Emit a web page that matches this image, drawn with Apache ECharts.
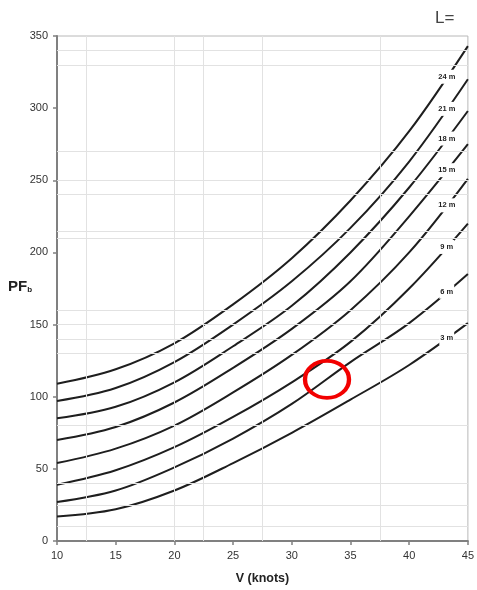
<!DOCTYPE html>
<html>
<head>
<meta charset="utf-8">
<script src="https://cdn.jsdelivr.net/npm/echarts@6/dist/echarts.min.js"></script>
<style>html,body{margin:0;padding:0;background:#fff;}#c{width:477px;height:590px;}</style>
</head>
<body>
<div id="c"></div>
<script>
const knots = [10, 15, 20, 25, 30, 35, 40, 45];
const xTicks = [10, 15, 20, 25, 30, 35, 40, 45];
const yTicks = [0, 50, 100, 150, 200, 250, 300, 350];
const lengthLabels = ['3 m', '6 m', '9 m', '12 m', '15 m', '18 m', '21 m', '24 m'];
const pf3  = [17, 22, 35, 54, 75, 98, 122, 151];
const pf6  = [27, 35, 51, 71, 95, 124, 151, 185];
const pf9  = [39, 49, 65, 86, 110, 138, 175, 220];
const pf12 = [54, 64, 80, 103, 129, 160, 200, 251];
const pf15 = [70, 79, 96, 120, 147, 180, 225, 275];
const pf18 = [85, 93, 110, 135, 163, 200, 245, 298];
const pf21 = [97, 106, 124, 150, 180, 217, 263, 320];
const pf24 = [109, 119, 137, 164, 196, 236, 284, 343];
const gridX = [12.5, 20, 22.5, 27.5, 37.5];
const gridY = [340, 330, 270, 250, 240, 215, 210, 160, 150, 140, 130, 80, 40, 25, 10];
const labelKnot = 43.2;
const highlight = [33, 112];

const curves = [pf3, pf6, pf9, pf12, pf15, pf18, pf21, pf24];

function interp(arr, x) {
  for (let i = 0; i < knots.length - 1; i++) {
    if (x >= knots[i] && x <= knots[i + 1]) {
      const t = (x - knots[i]) / (knots[i + 1] - knots[i]);
      return arr[i] + t * (arr[i + 1] - arr[i]);
    }
  }
  return arr[arr.length - 1];
}

const series = [];
series.push({
  type: 'line', data: [], z: 1, silent: true,
  markLine: {
    silent: true, symbol: 'none', animation: false,
    label: { show: false },
    lineStyle: { color: '#e2e2e2', width: 1, type: 'solid' },
    data: gridX.map(v => ({ xAxis: v })).concat(gridY.map(v => ({ yAxis: v })))
  }
});

curves.forEach((arr, i) => {
  series.push({
    type: 'line', name: lengthLabels[i], z: 3,
    data: knots.map((k, j) => [k, arr[j]]),
    smooth: 0.35, showSymbol: false, symbol: 'none',
    lineStyle: { color: '#1e1e1e', width: 2 },
    animation: false,
    markPoint: {
      symbol: 'rect', symbolSize: [1, 1], animation: false, silent: true,
      itemStyle: { color: 'rgba(0,0,0,0)' },
      label: {
        show: true, formatter: lengthLabels[i], color: '#222',
        fontSize: 7.5, fontWeight: 'bold', fontFamily: 'Liberation Sans, Arial, sans-serif',
        backgroundColor: '#fff', padding: [3, 1, 3, 1], position: 'inside'
      },
      data: [{ coord: [labelKnot, interp(arr, labelKnot)] }]
    }
  });
});

series.push({
  type: 'line', data: [], z: 5, silent: true,
  markPoint: {
    symbol: 'circle', symbolSize: [44, 37], animation: false, silent: true,
    itemStyle: { color: 'rgba(0,0,0,0)', borderColor: '#f20000', borderWidth: 4 },
    label: { show: false },
    data: [{ coord: highlight }]
  }
});

const chart = echarts.init(document.getElementById('c'), null, { renderer: 'canvas' });
chart.setOption({
  animation: false,
  backgroundColor: '#fff',
  grid: { left: 57, right: 7, top: 36, bottom: 46, show: true, borderColor: '#b8b8b8', borderWidth: 1 },
  xAxis: {
    type: 'value', min: xTicks[0], max: xTicks[xTicks.length - 1], interval: 5,
    name: 'V (knots)', nameLocation: 'middle', nameGap: 31,
    nameTextStyle: { fontSize: 12.5, fontWeight: 'bold', color: '#222', fontFamily: 'Liberation Sans, Arial, sans-serif' },
    axisLine: { lineStyle: { color: '#808080', width: 2 } },
    axisTick: { show: true, length: 4, lineStyle: { color: '#808080', width: 1.5 } },
    axisLabel: { fontSize: 11, color: '#333', margin: 9, fontFamily: 'Liberation Sans, Arial, sans-serif' },
    splitLine: { show: false }
  },
  yAxis: {
    type: 'value', min: yTicks[0], max: yTicks[yTicks.length - 1], interval: 50,
    axisLine: { show: true, lineStyle: { color: '#808080', width: 2 } },
    axisTick: { show: true, length: 4, lineStyle: { color: '#808080', width: 1.5 } },
    axisLabel: { fontSize: 11, color: '#333', margin: 9, fontFamily: 'Liberation Sans, Arial, sans-serif' },
    splitLine: { show: false }
  },
  graphic: [
    {
      type: 'text', left: 8, top: 279,
      style: {
        text: '{a|PF}{b|b}',
        rich: {
          a: { fontSize: 15, fontWeight: 'bold', fill: '#222', fontFamily: 'Liberation Sans, Arial, sans-serif' },
          b: { fontSize: 8, fontWeight: 'bold', fill: '#222', fontFamily: 'Liberation Sans, Arial, sans-serif', padding: [6, 0, 0, 0] }
        }
      }
    },
    {
      type: 'text', left: 435, top: 10,
      style: { text: 'L=', fontSize: 17, fill: '#444', fontFamily: 'Liberation Sans, Arial, sans-serif' }
    }
  ],
  series: series
});
</script>
</body>
</html>
